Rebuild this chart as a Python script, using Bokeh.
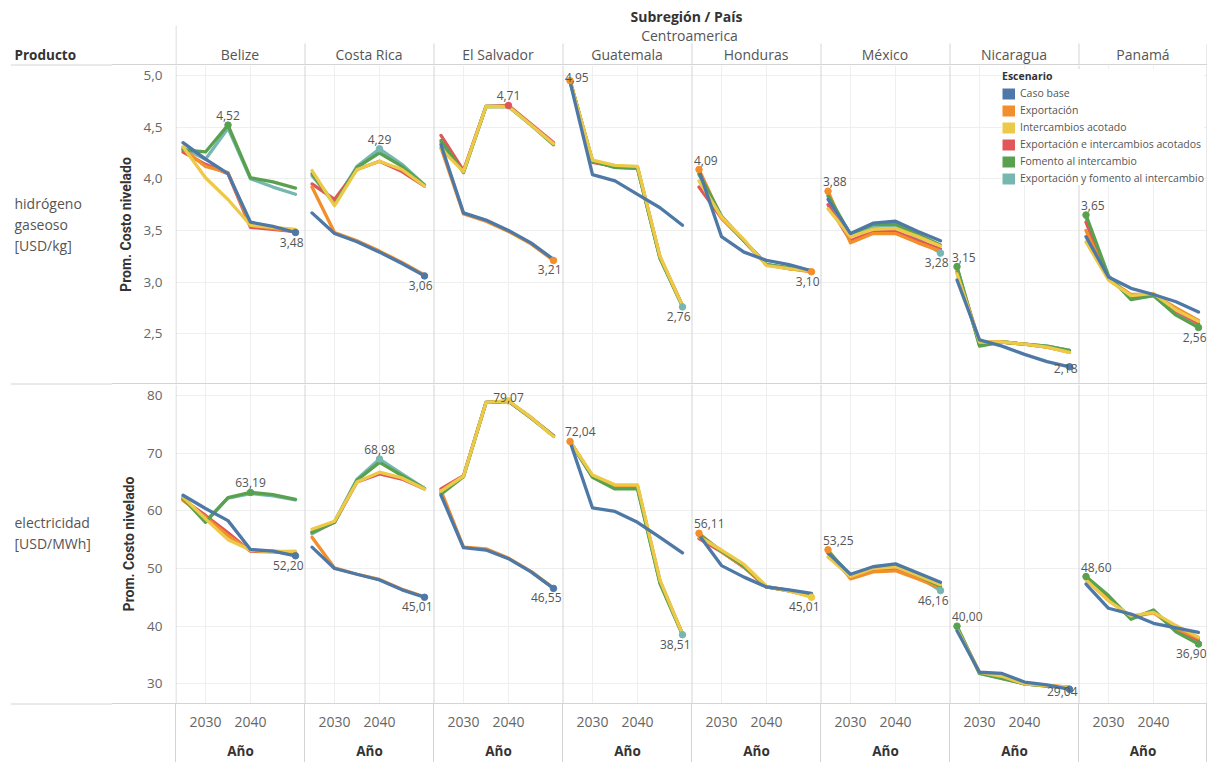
from bokeh.plotting import figure
from bokeh.layouts import column, row
from bokeh.models import (Range1d, FixedTicker, Grid, Span, Label, Legend, LegendItem,
                          ColumnDataSource, CustomJSTickFormatter, Div)
from bokeh.embed import file_html
from bokeh.resources import INLINE
from bokeh.core.properties import value

# ----------------------------------------------------------------- data
YEARS = [2025, 2030, 2035, 2040, 2045, 2050]
X_TICKS = [2030, 2040]
COUNTRIES = ["Belize", "Costa Rica", "El Salvador", "Guatemala",
             "Honduras", "México", "Nicaragua", "Panamá"]
SCENARIOS = ["Caso base", "Exportación", "Intercambios acotado",
             "Exportación e intercambios acotados", "Fomento al intercambio",
             "Exportación y fomento al intercambio"]
COLORS = ["#4e79a7", "#f28e2b", "#edc948", "#e15759", "#59a14f", "#76b7b2"]
PRODUCT_LABELS = ["hidrógeno\ngaseoso\n[USD/kg]", "electricidad\n[USD/MWh]"]
Y_TICKS_H2 = [2.5, 3.0, 3.5, 4.0, 4.5, 5.0]
Y_TICKS_EL = [30, 40, 50, 60, 70, 80]

# each list: one row per scenario (order of SCENARIOS), one value per year
H2_BELIZE = [[4.35, 4.19, 4.05, 3.58, 3.54, 3.48],
             [4.29, 4.12, 4.06, 3.55, 3.52, 3.49],
             [4.31, 4.01, 3.80, 3.55, 3.53, 3.51],
             [4.26, 4.14, 4.05, 3.53, 3.51, 3.49],
             [4.28, 4.26, 4.52, 4.01, 3.97, 3.91],
             [4.30, 4.19, 4.49, 4.00, 3.92, 3.85]]
H2_COSTA_RICA = [[3.67, 3.47, 3.39, 3.29, 3.18, 3.06],
                 [3.92, 3.48, 3.40, 3.30, 3.19, 3.07],
                 [4.08, 3.74, 4.09, 4.17, 4.09, 3.93],
                 [3.95, 3.80, 4.09, 4.17, 4.07, 3.93],
                 [4.05, 3.75, 4.11, 4.25, 4.12, 3.94],
                 [4.03, 3.77, 4.12, 4.29, 4.14, 3.94]]
H2_EL_SALVADOR = [[4.33, 3.67, 3.60, 3.50, 3.38, 3.22],
                  [4.30, 3.66, 3.59, 3.49, 3.37, 3.21],
                  [4.29, 4.07, 4.70, 4.70, 4.52, 4.34],
                  [4.42, 4.08, 4.70, 4.71, 4.53, 4.35],
                  [4.37, 4.06, 4.70, 4.70, 4.52, 4.33],
                  [4.35, 4.07, 4.70, 4.70, 4.52, 4.34]]
H2_GUATEMALA = [[4.94, 4.04, 3.98, 3.85, 3.72, 3.55],
                [4.95, 4.17, 4.12, 4.11, 3.24, 2.77],
                [4.95, 4.18, 4.13, 4.12, 3.25, 2.77],
                [4.95, 4.16, 4.12, 4.11, 3.24, 2.77],
                [4.95, 4.17, 4.11, 4.10, 3.23, 2.77],
                [4.95, 4.17, 4.11, 4.10, 3.23, 2.76]]
H2_HONDURAS = [[4.08, 3.44, 3.29, 3.21, 3.17, 3.11],
               [4.09, 3.62, 3.40, 3.17, 3.13, 3.10],
               [3.98, 3.63, 3.41, 3.16, 3.13, 3.11],
               [3.92, 3.62, 3.40, 3.17, 3.13, 3.11],
               [4.05, 3.64, 3.40, 3.17, 3.14, 3.11],
               [4.04, 3.63, 3.40, 3.17, 3.13, 3.11]]
H2_MEXICO = [[3.80, 3.47, 3.57, 3.59, 3.49, 3.40],
             [3.88, 3.38, 3.47, 3.47, 3.38, 3.30],
             [3.71, 3.44, 3.51, 3.52, 3.44, 3.35],
             [3.75, 3.40, 3.49, 3.49, 3.40, 3.32],
             [3.84, 3.46, 3.56, 3.56, 3.46, 3.36],
             [3.83, 3.45, 3.54, 3.55, 3.42, 3.28]]
H2_NICARAGUA = [[3.02, 2.44, 2.38, 2.30, 2.23, 2.18],
                [3.12, 2.42, 2.42, 2.40, 2.37, 2.32],
                [3.08, 2.42, 2.42, 2.40, 2.37, 2.32],
                [3.10, 2.41, 2.42, 2.40, 2.37, 2.33],
                [3.15, 2.38, 2.42, 2.40, 2.38, 2.34],
                [3.14, 2.39, 2.42, 2.40, 2.38, 2.34]]
H2_PANAMA = [[3.44, 3.05, 2.94, 2.88, 2.81, 2.71],
             [3.50, 3.03, 2.88, 2.88, 2.75, 2.63],
             [3.39, 3.02, 2.87, 2.89, 2.73, 2.62],
             [3.58, 3.04, 2.86, 2.88, 2.72, 2.60],
             [3.65, 3.06, 2.83, 2.87, 2.68, 2.56],
             [3.62, 3.05, 2.84, 2.87, 2.69, 2.57]]

EL_BELIZE = [[62.7, 60.4, 58.3, 53.3, 53.0, 52.20],
             [61.8, 58.9, 55.7, 53.1, 53.0, 52.8],
             [62.4, 58.6, 55.0, 53.2, 52.9, 53.0],
             [62.0, 59.2, 56.2, 53.0, 52.9, 52.6],
             [62.2, 58.0, 62.3, 63.19, 62.8, 62.0],
             [62.3, 58.2, 62.2, 63.0, 62.6, 61.9]]
EL_COSTA_RICA = [[53.7, 50.0, 49.0, 48.0, 46.3, 45.01],
                 [55.4, 50.1, 49.0, 48.1, 46.4, 45.1],
                 [56.8, 58.2, 65.0, 66.7, 65.7, 63.8],
                 [56.3, 58.0, 65.0, 66.4, 65.5, 63.8],
                 [56.3, 58.0, 65.3, 68.4, 66.1, 63.9],
                 [56.0, 58.1, 65.5, 68.98, 66.4, 63.9]]
EL_EL_SALVADOR = [[62.7, 53.6, 53.2, 51.7, 49.4, 46.55],
                  [63.5, 53.7, 53.4, 51.8, 49.5, 46.6],
                  [63.4, 66.0, 78.8, 79.07, 76.2, 72.9],
                  [63.8, 66.1, 78.8, 79.0, 76.2, 73.0],
                  [62.9, 65.9, 78.8, 79.0, 76.1, 73.0],
                  [63.2, 66.0, 78.8, 79.0, 76.1, 73.0]]
EL_GUATEMALA = [[72.0, 60.5, 59.9, 58.0, 55.4, 52.7],
                [72.04, 66.0, 64.3, 64.3, 47.7, 38.6],
                [72.0, 66.2, 64.5, 64.5, 48.0, 38.6],
                [72.0, 66.0, 64.2, 64.2, 47.8, 38.6],
                [72.0, 65.8, 63.8, 63.8, 47.4, 38.55],
                [72.0, 65.9, 63.9, 63.9, 47.5, 38.51]]
EL_HONDURAS = [[55.8, 50.5, 48.5, 46.8, 46.3, 45.7],
               [56.11, 52.9, 50.3, 46.8, 46.1, 45.2],
               [55.5, 53.2, 50.7, 46.9, 46.1, 45.01],
               [55.2, 52.9, 50.2, 46.8, 46.1, 45.2],
               [55.9, 53.0, 50.4, 46.8, 46.2, 45.3],
               [55.8, 53.0, 50.4, 46.8, 46.2, 45.3]]
EL_MEXICO = [[52.7, 49.0, 50.3, 50.8, 49.2, 47.6],
             [53.25, 48.2, 49.4, 49.6, 48.2, 46.6],
             [52.0, 48.6, 50.0, 50.3, 48.8, 47.2],
             [52.6, 48.4, 49.6, 49.9, 48.5, 46.8],
             [53.0, 48.8, 50.0, 50.4, 48.8, 46.9],
             [52.9, 48.7, 49.8, 50.2, 48.6, 46.16]]
EL_NICARAGUA = [[39.2, 32.0, 31.8, 30.3, 29.8, 29.04],
                [39.7, 31.9, 31.2, 30.0, 29.7, 29.4],
                [39.5, 32.0, 31.3, 30.0, 29.7, 29.4],
                [39.6, 31.9, 31.1, 30.0, 29.7, 29.4],
                [40.00, 31.8, 30.9, 30.0, 29.6, 29.3],
                [39.9, 31.8, 31.0, 30.0, 29.6, 29.3]]
EL_PANAMA = [[47.3, 43.1, 42.1, 40.5, 39.7, 38.9],
             [48.2, 44.6, 41.6, 42.3, 39.6, 37.9],
             [48.0, 44.4, 41.8, 42.4, 40.1, 38.1],
             [48.3, 44.8, 41.5, 42.5, 39.5, 37.6],
             [48.60, 45.3, 41.2, 42.8, 39.0, 36.90],
             [48.5, 45.1, 41.3, 42.7, 39.1, 37.0]]

H2_DATA = [H2_BELIZE, H2_COSTA_RICA, H2_EL_SALVADOR, H2_GUATEMALA,
           H2_HONDURAS, H2_MEXICO, H2_NICARAGUA, H2_PANAMA]
EL_DATA = [EL_BELIZE, EL_COSTA_RICA, EL_EL_SALVADOR, EL_GUATEMALA,
           EL_HONDURAS, EL_MEXICO, EL_NICARAGUA, EL_PANAMA]

# ----------------------------------------------------------------- layout / style
FONT = "Open Sans"
AXIS_FONT = "Roboto"
SEP = "#d4d4d4"
GRID = "#efefef"
TXT = "#555555"
DARK = "#333333"
N = len(COUNTRIES)
AXIS_W = 63            # y axis border of the pane figures
LABEL_W = 175 - AXIS_W # left column with "Producto" and product names
PANEL_W = 129
FRAME_W = PANEL_W * N
MAIN_W = AXIS_W + FRAME_W
HDR_H, ROW1_H, ROW2_H, BOT_H = 64, 318, 319, 58
TOTAL_H = HDR_H + 1 + ROW1_H + 1 + ROW2_H + 1 + BOT_H
PX_PER_YEAR = 4.5
X_LEFT = 2030 - 30 / PX_PER_YEAR          # year at the left edge of every pane
DRAW_ORDER = [5, 3, 1, 4, 2, 0]           # Caso base drawn on top
EDGE = 0.5 / PANEL_W
LINE_W = 3.3


def fmt_num(v):
    return f"{v:.2f}".replace(".", ",")


def sep_locs():
    return [k + EDGE if k < N else N - EDGE for k in range(N + 1)]


def make_row(dsets, y_lo, y_hi, height, yticks, fmt_code, with_legend):
    p = figure(width=MAIN_W, height=height, x_range=Range1d(0, N), y_range=Range1d(y_lo, y_hi),
               x_axis_location=None, output_backend="svg", toolbar_location=None, title=None,
               min_border_left=AXIS_W, min_border_right=0, min_border_top=0, min_border_bottom=0,
               background_fill_color="white", border_fill_color="white", outline_line_color=None)
    ax = p.yaxis[0]
    ax.ticker = FixedTicker(ticks=yticks)
    ax.formatter = CustomJSTickFormatter(code=fmt_code)
    ax.axis_label = "Prom. Costo nivelado"
    ax.axis_label_text_font = AXIS_FONT
    ax.axis_label_text_font_style = "bold"
    ax.axis_label_text_font_size = "14px"
    ax.axis_label_text_color = DARK
    ax.axis_label_standoff = 7
    ax.major_label_text_font = FONT
    ax.major_label_text_font_size = "13.5px"
    ax.major_label_text_color = "#666666"
    ax.major_label_standoff = 7
    ax.axis_line_color = None
    ax.major_tick_line_color = None
    ax.minor_tick_line_color = None
    p.ygrid.grid_line_color = GRID
    p.xgrid.grid_line_color = None

    px_per_unit = height / (y_hi - y_lo)

    for i in range(N):
        rn = f"pane{i}"
        start = X_LEFT - i * PANEL_W / PX_PER_YEAR
        p.extra_x_ranges[rn] = Range1d(start, start + FRAME_W / PX_PER_YEAR)
        p.add_layout(Grid(dimension=0, ticker=FixedTicker(ticks=X_TICKS), x_range_name=rn,
                          grid_line_color=GRID))

    for i in range(N):
        rn = f"pane{i}"
        series = dsets[i]
        for k in DRAW_ORDER:
            p.line(YEARS, series[k], x_range_name=rn, line_color=COLORS[k], line_width=LINE_W,
                   line_join="round", line_cap="round")
        flat = [(series[k][j], k, j) for k in range(len(SCENARIOS)) for j in range(len(YEARS))]
        vmax = max(flat, key=lambda t: t[0])
        vmin = min(flat, key=lambda t: t[0])
        cols = dict(x=[], y=[], text=[], align=[], base=[], xo=[], yo=[], color=[])
        for kind, (v, k, j) in (("max", vmax), ("min", vmin)):
            if j == 0:
                align, xo = "left", -5
            elif j == len(YEARS) - 1:
                align, xo = "right", 8
            else:
                align, xo = "center", 0
            if kind == "max":
                if (y_hi - v) * px_per_unit < 20:
                    base, yo = "middle", -3
                else:
                    base, yo = "bottom", -5
            else:
                if (v - y_lo) * px_per_unit < 20:
                    base, yo = "middle", 2
                else:
                    base, yo = "top", 5
            cols["x"].append(YEARS[j]); cols["y"].append(v); cols["text"].append(fmt_num(v))
            cols["align"].append(align); cols["base"].append(base)
            cols["xo"].append(xo); cols["yo"].append(yo); cols["color"].append(COLORS[k])
        src = ColumnDataSource(cols)
        p.scatter("x", "y", source=src, size=6.5, color="color", x_range_name=rn)
        p.text("x", "y", text="text", source=src, x_range_name=rn, text_align="align",
               text_baseline="base", x_offset="xo", y_offset="yo",
               text_font=value(FONT), text_font_size="12px", text_color=TXT)

    for loc in sep_locs():
        p.add_layout(Span(location=loc, dimension="height", line_color=SEP, line_width=1))

    if with_legend:
        items = []
        for k, (s, c) in enumerate(zip(SCENARIOS, COLORS)):
            # legend key: wide, flat-capped line stroke so it shows as a colour block
            r = p.line(YEARS, dsets[0][k], x_range_name="pane0", line_color=c,
                       line_width=11, line_cap="butt", visible=False)
            items.append(LegendItem(label=s, renderers=[r]))
        lg = Legend(items=items, location=(827, 198), title="Escenario",
                    title_text_font=FONT, title_text_font_size="10.5px",
                    title_text_font_style="bold", title_text_color=DARK, title_standoff=3,
                    label_text_font=FONT, label_text_font_size="10.5px", label_text_color=TXT,
                    glyph_width=13, glyph_height=13, label_height=13, label_standoff=5,
                    spacing=3, padding=4, margin=0, border_line_color=None,
                    background_fill_color="white", background_fill_alpha=1.0,
                    inactive_fill_alpha=0.0)
        p.add_layout(lg)
    return p


# ----------------------------------------------------------------- left column
left = figure(width=LABEL_W, height=TOTAL_H, x_range=Range1d(10, LABEL_W),
              y_range=Range1d(TOTAL_H, 0), x_axis_location=None, y_axis_location=None,
              output_backend="svg", toolbar_location=None, title=None,
              min_border_left=10, min_border_right=0, min_border_top=0, min_border_bottom=0,
              background_fill_color="white", border_fill_color="white", outline_line_color=None)
left.grid.grid_line_color = None
left.add_layout(Label(x=14, y=54, text="Producto", text_font=FONT, text_font_size="13.5px",
                      text_font_style="bold", text_color=DARK, text_align="left",
                      text_baseline="middle"))
row_tops = [HDR_H + 1, HDR_H + 1 + ROW1_H + 1]
row_hs = [ROW1_H, ROW2_H]
label_fracs = [0.5, 0.466]
for lbl, top, h, fr in zip(PRODUCT_LABELS, row_tops, row_hs, label_fracs):
    left.add_layout(Label(x=14, y=top + h * fr, text=lbl, text_font=FONT, text_font_size="14px",
                          text_color=TXT, text_align="left", text_baseline="middle",
                          text_line_height=1.1))
for yline in (HDR_H + 0.5, HDR_H + 1 + ROW1_H + 0.5, HDR_H + 1 + ROW1_H + 1 + ROW2_H + 0.5):
    left.add_layout(Span(location=yline, dimension="width", line_color=SEP, line_width=1))

# ----------------------------------------------------------------- header
hdr = figure(width=MAIN_W, height=HDR_H, x_range=Range1d(0, N),
             y_range=Range1d(HDR_H, 0), x_axis_location=None, y_axis_location=None,
             output_backend="svg", toolbar_location=None, title=None,
             min_border_left=AXIS_W, min_border_right=0, min_border_top=0, min_border_bottom=0,
             background_fill_color="white", border_fill_color="white", outline_line_color=None)
hdr.grid.grid_line_color = None
hdr.add_layout(Label(x=N / 2 - 5 / PANEL_W, y=16, text="Subregión / País", text_font=FONT,
                     text_font_size="14px", text_font_style="bold", text_color=DARK,
                     text_align="center", text_baseline="middle"))
hdr.add_layout(Label(x=N / 2 - 2 / PANEL_W, y=35, text="Centroamerica", text_font=FONT,
                     text_font_size="14px", text_color=TXT, text_align="center",
                     text_baseline="middle"))
hdr.text(x=[i + 0.5 for i in range(N)], y=[54] * N, text=COUNTRIES, text_font=value(FONT),
         text_font_size="14px", text_color=TXT, text_align="center", text_baseline="middle")
locs = sep_locs()
hdr.segment(x0=locs[1:], y0=[43] * N, x1=locs[1:], y1=[HDR_H] * N, line_color=SEP, line_width=1)
hdr.segment(x0=[locs[0]], y0=[25], x1=[locs[0]], y1=[HDR_H], line_color=SEP, line_width=1)


def rule():
    return Div(width=MAIN_W, height=1, margin=0, styles={"background-color": SEP})


row1 = make_row(H2_DATA, 2.0184, 5.0968, ROW1_H, Y_TICKS_H2,
                "return tick.toFixed(1).replace('.', ',')", True)
row2 = make_row(EL_DATA, 26.584, 81.908, ROW2_H, Y_TICKS_EL,
                "return tick.toFixed(0)", False)

# ----------------------------------------------------------------- bottom axes
bottom_children = [Div(width=AXIS_W, height=BOT_H, margin=0)]
for i in range(N):
    bottom_children.append(Div(width=1, height=BOT_H, margin=0, styles={"background-color": SEP}))
    w = PANEL_W - 1 if i < N - 1 else PANEL_W - 2
    b = figure(width=w, height=BOT_H,
               x_range=Range1d(X_LEFT + 1 / PX_PER_YEAR, X_LEFT + (1 + w) / PX_PER_YEAR),
               y_range=Range1d(0, 1), y_axis_location=None, output_backend="svg",
               toolbar_location=None, title=None,
               min_border_left=0, min_border_right=0, min_border_top=0, min_border_bottom=0,
               background_fill_color="white", border_fill_color="white", outline_line_color=None)
    b.grid.grid_line_color = None
    xa = b.xaxis[0]
    xa.ticker = FixedTicker(ticks=X_TICKS)
    xa.axis_label = "Año"
    xa.axis_label_text_font = FONT
    xa.axis_label_text_font_style = "bold"
    xa.axis_label_text_font_size = "13.5px"
    xa.axis_label_text_color = DARK
    xa.axis_label_standoff = 12
    xa.major_label_text_font = FONT
    xa.major_label_text_font_size = "14px"
    xa.major_label_text_color = "#666666"
    xa.major_label_standoff = 3
    xa.axis_line_color = None
    xa.major_tick_line_color = None
    xa.minor_tick_line_color = None
    bottom_children.append(b)
bottom_children.append(Div(width=1, height=BOT_H, margin=0, styles={"background-color": SEP}))

main = column(hdr, rule(), row1, rule(), row2, rule(), row(*bottom_children))
layout = row(left, main)

open("out.html", "w").write(file_html(layout, INLINE))
